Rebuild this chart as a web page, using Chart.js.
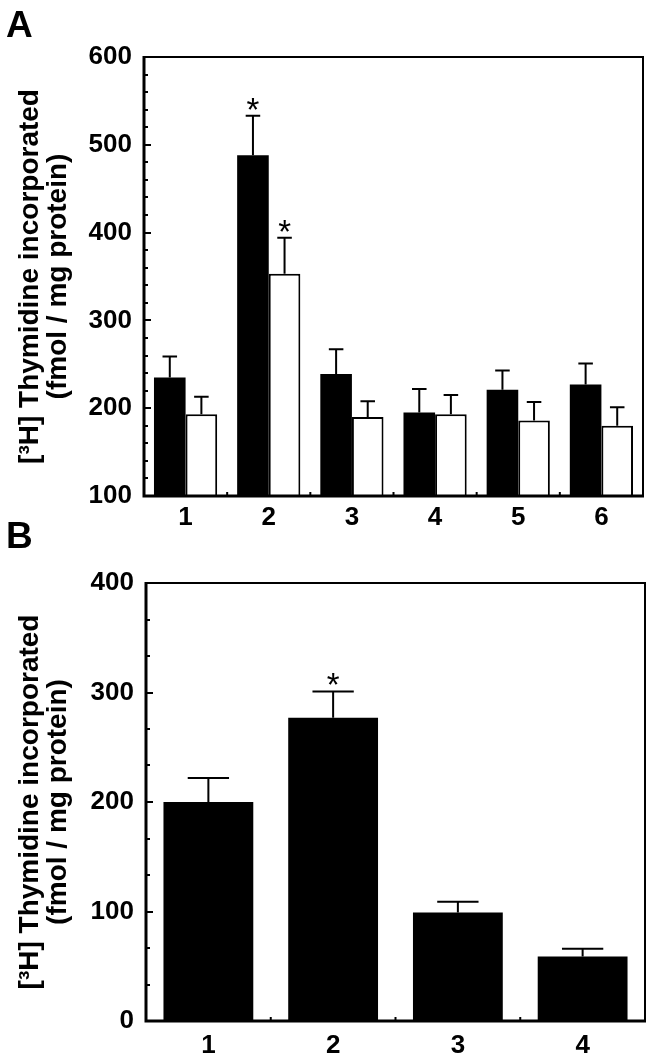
<!DOCTYPE html>
<html lang="en">
  <head>
    <meta charset="utf-8">
    <title>[3H] Thymidine incorporated</title>
    <style>
      body { margin: 0; background: #fff; }
      .panel { position: absolute; left: 0; width: 653px; }
      .panel canvas { display: block; }
      .letter { position: absolute; left: 6px; font: bold 37px "Liberation Sans", Arial, sans-serif; line-height: 1; color: #000; }
    </style>
  </head>
  <body>

    <div class="panel" style="top:0px;"><canvas id="graphA" width="653" height="540"></canvas></div>
    <div class="panel" style="top:540px;"><canvas id="graphB" width="653" height="518"></canvas></div>
    <div class="letter" style="top:6px;">A</div>
    <div class="letter" style="top:517px;">B</div>

    <script src="https://cdn.jsdelivr.net/npm/chart.js@4.4.1/dist/chart.umd.min.js"></script>
    <script>
    // panel A
    var categoriesA = ['1', '2', '3', '4', '5', '6'];
    var blackA = [235, 488, 239, 195, 221, 227];
    var blackErrA = [24, 45, 28, 27, 22, 24];
    var whiteA = [193, 353, 190, 193, 186, 180];
    var whiteErrA = [20, 41, 18, 22, 21, 21];
    var starsBlackA = [false, true, false, false, false, false];
    var starsWhiteA = [false, true, false, false, false, false];
    var yTicksA = [100, 200, 300, 400, 500, 600];

    // panel B
    var categoriesB = ['1', '2', '3', '4'];
    var valuesB = [200, 277, 99, 59];
    var errB = [22, 24, 10, 7];
    var starsB = [false, true, false, false];
    var yTicksB = [0, 100, 200, 300, 400];

    var yTitle = ['[\u00B3H] Thymidine incorporated', '(fmol / mg protein)'];
    var family = '"Liberation Sans", Arial, Helvetica, sans-serif';

    // upper error bars + significance stars
    var errorBars = {
      id: 'errorBars',
      afterDatasetsDraw: function (chart) {
        var ctx = chart.ctx;
        var y = chart.scales.y;
        ctx.save();
        ctx.strokeStyle = '#000';
        ctx.fillStyle = '#000';
        ctx.lineWidth = 2;
        chart.data.datasets.forEach(function (ds, i) {
          var meta = chart.getDatasetMeta(i);
          meta.data.forEach(function (bar, j) {
            var top = y.getPixelForValue(ds.data[j] + ds.errors[j]);
            var half = bar.width * 0.23;
            ctx.beginPath();
            ctx.moveTo(bar.x, bar.y);
            ctx.lineTo(bar.x, top);
            ctx.moveTo(bar.x - half, top);
            ctx.lineTo(bar.x + half, top);
            ctx.stroke();
            if (ds.stars[j]) {
              ctx.font = '33px ' + family;
              ctx.textAlign = 'center';
              ctx.textBaseline = 'alphabetic';
              ctx.fillText('*', bar.x, top + 5);
            }
          });
        });
        ctx.restore();
      }
    };

    // closed frame with inward ticks
    var frame = {
      id: 'frame',
      afterDraw: function (chart, args, opts) {
        var a = chart.chartArea;
        var ctx = chart.ctx;
        var x = chart.scales.x;
        var y = chart.scales.y;
        ctx.save();
        ctx.strokeStyle = '#000';
        ctx.lineWidth = 2;
        ctx.beginPath();
        ctx.moveTo(a.left, a.top);
        ctx.lineTo(a.right, a.top);
        ctx.lineTo(a.right, a.bottom);
        ctx.stroke();
        ctx.lineWidth = 3;
        ctx.beginPath();
        ctx.moveTo(a.left, a.top - 1);
        ctx.lineTo(a.left, a.bottom);
        ctx.lineTo(a.right + 1, a.bottom);
        ctx.stroke();

        ctx.lineWidth = 2;
        ctx.beginPath();
        for (var v = y.min; v <= y.max + 1e-6; v += opts.minor) {
          var py = Math.round(y.getPixelForValue(v));
          var major = Math.abs(v / opts.major - Math.round(v / opts.major)) < 1e-6;
          ctx.moveTo(a.left, py);
          ctx.lineTo(a.left + (major ? 7 : 4), py);
        }
        var n = chart.data.labels.length;
        for (var i = 0; i < n - 1; i++) {
          var px = (x.getPixelForValue(i) + x.getPixelForValue(i + 1)) / 2;
          ctx.moveTo(px, a.bottom);
          ctx.lineTo(px, a.bottom - 4);
        }
        ctx.stroke();
        ctx.restore();
      }
    };

    function makeOptions(ticks, minor, yWidth, xHeight, xPad, pad, catPct) {
      return {
        responsive: false,
        animation: false,
        layout: { padding: pad },
        datasets: { bar: { categoryPercentage: catPct, barPercentage: 1.0 } },
        plugins: {
          legend: { display: false },
          tooltip: { enabled: false },
          frame: { minor: minor, major: 100 }
        },
        scales: {
          x: {
            grid: { display: false, drawTicks: false },
            border: { display: false },
            ticks: { color: '#000', padding: xPad, font: { family: family, size: 26, weight: 'bold' } },
            afterFit: function (s) { s.height = xHeight; }
          },
          y: {
            min: ticks[0],
            max: ticks[ticks.length - 1],
            grid: { display: false, drawTicks: false },
            border: { display: false },
            ticks: { stepSize: 100, color: '#000', padding: 12, font: { family: family, size: 26, weight: 'bold' } },
            title: {
              display: true,
              text: yTitle,
              color: '#000',
              padding: { top: 16, bottom: 0 },
              font: { family: family, size: 28, weight: 'bold', lineHeight: 1.0 }
            },
            afterFit: function (s) { s.width = yWidth; }
          }
        }
      };
    }

    new Chart(document.getElementById('graphA').getContext('2d'), {
      type: 'bar',
      data: {
        labels: categoriesA,
        datasets: [{
          data: blackA,
          errors: blackErrA,
          stars: starsBlackA,
          backgroundColor: '#000',
          borderColor: '#000',
          borderWidth: 0
        }, {
          data: whiteA,
          errors: whiteErrA,
          stars: starsWhiteA,
          backgroundColor: '#fff',
          borderColor: '#000',
          borderWidth: 2
        }]
      },
      options: makeOptions(yTicksA, 20, 144, 44, 6, { top: 57, right: 10, left: 0, bottom: 0 }, 0.76),
      plugins: [errorBars, frame]
    });

    new Chart(document.getElementById('graphB').getContext('2d'), {
      type: 'bar',
      data: {
        labels: categoriesB,
        datasets: [{
          data: valuesB,
          errors: errB,
          stars: starsB,
          backgroundColor: '#000',
          borderColor: '#000',
          borderWidth: 0
        }]
      },
      options: makeOptions(yTicksB, 100 / 3, 146, 37, 9, { top: 43, right: 8, left: 0, bottom: 0 }, 0.72),
      plugins: [errorBars, frame]
    });
    </script>
  </body>
</html>
